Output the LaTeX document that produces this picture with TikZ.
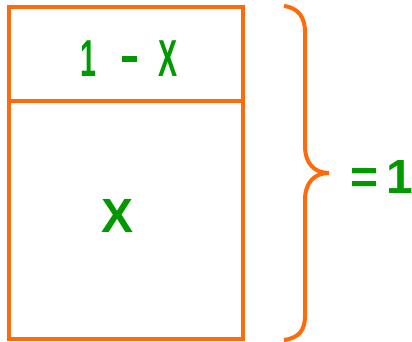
\documentclass[tikz,border=0pt]{standalone}
\usepackage{fontspec}
\setmainfont{Liberation Sans}
\usepackage{graphicx}
\definecolor{orng}{HTML}{FF6A0A}
\definecolor{grn}{HTML}{009A00}
\begin{document}
\begin{tikzpicture}[x=1pt,y=-1pt,
  box/.style={draw=orng,line width=3.3pt},
  lbl/.style={text=grn,inner sep=0pt}]
\useasboundingbox (0,0) rectangle (412,342);
\draw[box] (9,7) rectangle (243,339);
\draw[box] (9,101) -- (243,101);
\node[lbl,font=\fontsize{52}{52}\bfseries\selectfont] (top) at (129,58.5)
  {\scalebox{0.55}[1]{1}\hspace{26pt}\rule[0.27em]{15pt}{6pt}\hspace{22pt}\scalebox{0.55}[1]{X}};
\node[lbl,font=\fontsize{48}{48}\bfseries\selectfont] (x) at (118,216) {X};
\draw[orng,line width=4pt]
  (284,6) .. controls (299,8) and (305,18) .. (305,32)
  -- (305,146) .. controls (305,163) and (314,173) .. (329,173)
  .. controls (314,173) and (305,183) .. (305,200)
  -- (305,316) .. controls (305,330) and (299,338) .. (284,340);
\coordinate (tip) at (329,173);
\node[lbl,font=\fontsize{48}{48}\bfseries\selectfont,anchor=west] (eq) at (350,177) {=\,1};
\end{tikzpicture}
\end{document}
